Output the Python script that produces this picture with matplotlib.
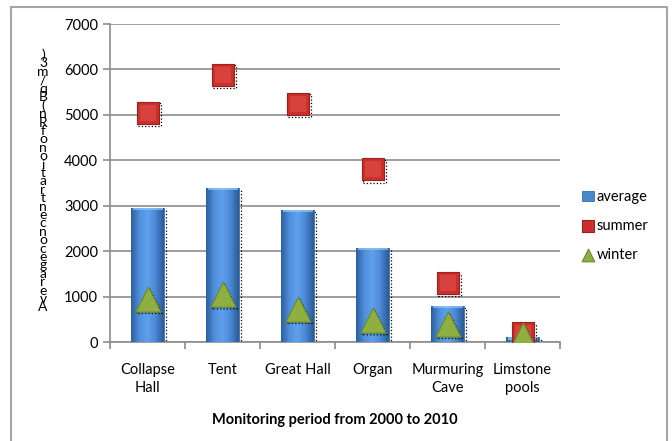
import numpy as np
import matplotlib
matplotlib.use("Agg")
import matplotlib.pyplot as plt
from matplotlib.patches import Rectangle
from matplotlib.colors import LinearSegmentedColormap
import matplotlib.transforms as mtransforms

plt.rcParams['font.family'] = ['Lato', 'DejaVu Sans']

sites = ['Collapse\nHall', 'Tent', 'Great Hall', 'Organ', 'Murmuring\nCave', 'Limstone\npools']
average = [2960, 3400, 2900, 2080, 800, 100]
summer = [5050, 5880, 5250, 3800, 1300, 200]
winter = [950, 1050, 730, 480, 400, 150]
ylabel = 'Average concentration of Rn (Bq/m3)'

fig = plt.figure(figsize=(6.72, 4.41), dpi=100)
ax = fig.add_axes([110/672, 1-342/441, 450/672, 318/441])

# grey frame around the whole chart (bottom edge runs off the canvas)
fig.patches.append(Rectangle((11/672, -6/441), 656/672, 440/441, transform=fig.transFigure,
                             fill=False, edgecolor='#a6a6a6', lw=1.5))

x = np.arange(len(sites))
bw = 0.44

shadow = mtransforms.offset_copy(ax.transData, fig=fig, x=2, y=-2, units='dots')

# dotted shadow behind bars
ax.bar(x, average, width=bw, fill=False, edgecolor='black', linestyle=':', lw=0.9,
       transform=shadow, zorder=2)
bars = ax.bar(x, average, width=bw, color='#4a86c8', edgecolor='#3a6ea8', lw=0.6, zorder=3,
              label='average')

# cylinder-like shading on the bars
cmap = LinearSegmentedColormap.from_list('blu', ['#2d5f9e', '#4f8fdc', '#5fa0ec', '#4a88d4', '#2b5a96'])
grad = np.linspace(0, 1, 64).reshape(1, -1)
for b in bars:
    bx, by = b.get_x(), b.get_y()
    w, h = b.get_width(), b.get_height()
    im = ax.imshow(grad, extent=[bx, bx + w, by, by + h], cmap=cmap, aspect='auto', zorder=3.1)
    im.set_clip_path(b)
    cap = min(h, 45)
    ax.add_patch(Rectangle((bx + 0.02, by + h - cap), w - 0.04, cap, color='#8ec6f7', alpha=0.75,
                           lw=0, zorder=3.2))

ax.scatter(x, summer, marker='s', s=270, facecolors='none', edgecolors='black', linestyles=':',
           lw=0.9, transform=shadow, zorder=4)
ax.scatter(x, summer, marker='s', s=270, color='#c9302c', edgecolors='#9a2020', lw=0.8,
           zorder=5, label='summer')
ax.scatter(x, summer, marker='s', s=140, color='#d8423d', lw=0, zorder=5.1)

ax.scatter(x, winter, marker='^', s=330, facecolors='none', edgecolors='black', linestyles=':',
           lw=0.9, transform=shadow, zorder=6)
ax.scatter(x, winter, marker='^', s=330, color='#8fb040', edgecolors='#6b8a2a', lw=0.8,
           zorder=7, label='winter')

ax.set_xlim(-0.5, len(sites) - 0.5)
ax.set_ylim(0, 7000)
ax.set_yticks(range(0, 7001, 1000))
ax.yaxis.grid(True, color='#8c8c8c', lw=1.2)
ax.set_axisbelow(True)
ax.set_xticks(x)
ax.set_xticklabels(sites, fontsize=10.5, linespacing=1.35)
ax.set_xticks(np.arange(-0.5, len(sites)), minor=True)
ax.tick_params(axis='x', which='major', length=0, pad=15)
ax.tick_params(axis='x', which='minor', length=5, color='#8c8c8c', width=1.2)
ax.tick_params(axis='y', length=5, color='#8c8c8c', width=1.2, labelsize=10.5)
for s in ['top', 'right']:
    ax.spines[s].set_visible(False)
for s in ['left', 'bottom']:
    ax.spines[s].set_color('#8c8c8c')
    ax.spines[s].set_linewidth(1.2)

ax.set_xlabel('Monitoring period from 2000 to 2010', fontsize=10.5, fontweight='bold', labelpad=13)

# stacked upright characters along the y axis
fig.text(43/672, 1 - 181/441, '\n'.join(reversed(ylabel.replace(' ', ''))), fontsize=10,
         linespacing=0.64, ha='center', va='center')

handles, labels = ax.get_legend_handles_labels()
order = [labels.index(n) for n in ['average', 'summer', 'winter']]
ax.legend([handles[i] for i in order], [labels[i] for i in order],
          loc='center left', bbox_to_anchor=(1.02, 0.365), frameon=False, fontsize=10.5,
          handlelength=0.8, handletextpad=0.2, labelspacing=1.0, markerscale=0.5)

fig.savefig('out.png', dpi=100)
